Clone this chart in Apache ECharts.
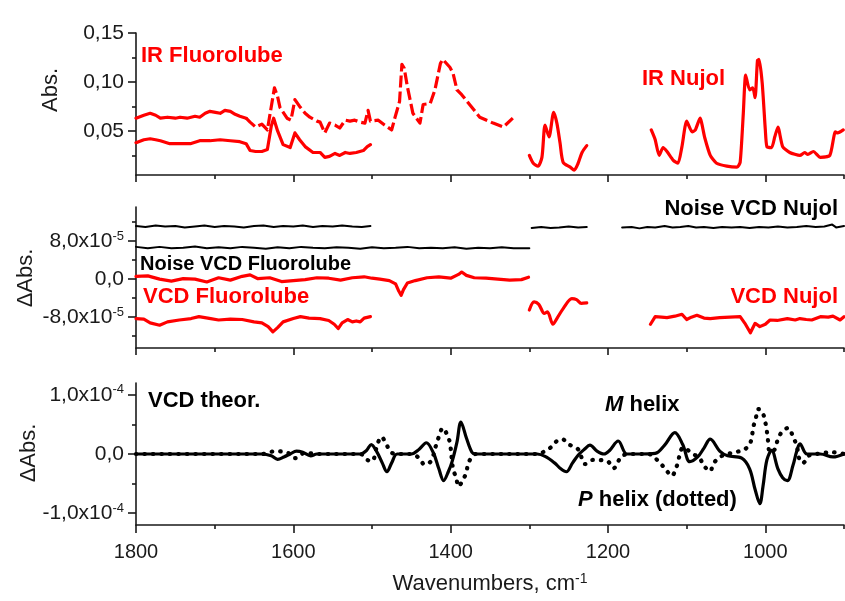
<!DOCTYPE html>
<html><head><meta charset="utf-8">
<script src="https://cdn.jsdelivr.net/npm/echarts@6/dist/echarts.min.js"></script>
<style>html,body{margin:0;padding:0;background:#fff}#c{width:845px;height:601px}</style>
</head><body><div id="c"></div><script>
// ---------- data (wavenumber, value) ----------
// Panel 1: IR absorbance
const irFluoroUpperA = [[1800,0.063],[1790,0.066],[1782,0.068],[1775,0.066],[1769,0.063],[1760,0.064],[1750,0.063],[1744,0.064],[1735,0.063],[1725,0.065],[1719,0.064],[1712,0.068],[1706,0.070],[1699,0.069],[1693,0.068],[1687,0.071],[1680,0.070],[1674,0.067],[1668,0.065],[1660,0.063]];
const irFluoroUpperB = [[1660,0.063],[1655,0.059],[1648,0.054],[1640,0.057],[1633,0.051],[1628,0.075],[1624,0.094],[1620,0.085],[1617,0.074],[1612,0.068],[1608,0.063],[1603,0.061],[1598,0.082],[1592,0.075],[1585,0.068],[1579,0.064],[1570,0.060],[1566,0.059],[1560,0.048],[1554,0.058],[1547,0.056],[1541,0.053],[1534,0.061],[1528,0.060],[1522,0.061],[1515,0.059],[1509,0.058],[1505,0.071],[1502,0.060],[1492,0.061],[1484,0.056],[1475,0.051],[1471,0.063],[1465,0.080],[1462,0.118],[1459,0.114],[1455,0.095],[1448,0.068],[1439,0.058],[1435,0.077],[1426,0.078],[1420,0.092],[1413,0.119],[1410,0.123],[1401,0.115],[1397,0.109],[1392,0.092],[1386,0.087],[1379,0.080],[1363,0.064],[1346,0.058],[1333,0.054],[1321,0.063]];
const irFluoroLower = [[1800,0.038],[1790,0.041],[1782,0.042],[1775,0.041],[1769,0.040],[1757,0.037],[1744,0.037],[1731,0.037],[1719,0.040],[1706,0.040],[1693,0.041],[1680,0.040],[1668,0.039],[1660,0.037],[1655,0.030],[1648,0.029],[1640,0.029],[1633,0.031],[1628,0.055],[1625,0.063],[1620,0.050],[1613,0.036],[1604,0.033],[1598,0.048],[1592,0.041],[1585,0.034],[1575,0.028],[1566,0.028],[1560,0.023],[1554,0.024],[1547,0.027],[1541,0.025],[1534,0.028],[1528,0.027],[1520,0.028],[1511,0.030],[1506,0.034],[1502,0.036]];
const irNujolA = [[1300,0.025],[1295,0.017],[1289,0.014],[1284,0.023],[1280,0.056],[1275,0.044],[1269,0.069],[1265,0.058],[1261,0.038],[1257,0.018],[1248,0.013],[1243,0.010],[1238,0.017],[1233,0.028],[1227,0.035]];
const irNujolB = [[1145,0.051],[1140,0.041],[1135,0.025],[1130,0.033],[1125,0.029],[1117,0.020],[1111,0.017],[1106,0.034],[1100,0.060],[1093,0.049],[1089,0.051],[1083,0.063],[1077,0.043],[1070,0.025],[1062,0.017],[1049,0.014],[1036,0.013],[1032,0.018],[1028,0.068],[1025,0.107],[1020,0.092],[1016,0.094],[1013,0.084],[1010,0.122],[1008,0.123],[1004,0.099],[1000,0.051],[998,0.034],[992,0.033],[988,0.044],[984,0.054],[978,0.034],[969,0.028],[956,0.025],[950,0.028],[946,0.026],[939,0.029],[930,0.023],[918,0.025],[911,0.049],[908,0.048],[901,0.051]];

// Panel 2: VCD and noise (units of 1e-5)
const noiseFluoroUpper = [[1800,11.2],[1788,11.0],[1775,11.3],[1763,11.1],[1750,11.2],[1738,10.9],[1725,11.1],[1713,11.3],[1700,11.0],[1688,11.2],[1675,11.1],[1663,10.9],[1650,11.2],[1638,11.3],[1625,11.0],[1613,11.2],[1600,11.1],[1588,11.3],[1575,11.0],[1563,11.2],[1550,11.1],[1538,11.3],[1525,11.1],[1513,11.0],[1502,11.2]];
const noiseFluoroLower = [[1800,6.8],[1785,6.5],[1770,6.8],[1755,6.5],[1740,6.6],[1725,6.9],[1710,6.5],[1695,6.7],[1680,6.5],[1665,6.8],[1650,6.6],[1635,6.4],[1620,6.7],[1605,6.5],[1590,6.8],[1575,6.6],[1560,6.5],[1545,6.7],[1530,6.6],[1515,6.4],[1500,6.7],[1485,6.5],[1470,6.6],[1455,6.8],[1440,6.5],[1425,6.6],[1410,6.5],[1395,6.7],[1380,6.4],[1365,6.6],[1350,6.5],[1335,6.7],[1320,6.5],[1300,6.5]];
const noiseNujolA = [[1297,10.8],[1285,11.0],[1273,10.8],[1262,10.9],[1250,11.1],[1238,10.9],[1227,11.0]];
const noiseNujolB = [[1182,10.9],[1170,11.0],[1160,10.7],[1150,11.0],[1140,10.9],[1128,11.2],[1118,10.9],[1108,11.0],[1098,11.2],[1088,10.9],[1078,11.0],[1066,10.8],[1055,11.0],[1043,10.9],[1032,11.0],[1020,10.8],[1008,11.0],[996,10.9],[984,11.1],[972,10.9],[960,11.0],[948,11.2],[936,11.0],[925,11.1],[915,11.5],[910,10.9],[900,11.2]];
const vcdFluoroUpper = [[1800,0.6],[1785,0.7],[1770,0.0],[1755,-0.4],[1740,0.1],[1725,0.0],[1710,-0.6],[1695,0.3],[1680,-0.2],[1665,0.6],[1655,0.9],[1645,0.1],[1630,0.3],[1615,-0.5],[1600,-0.3],[1585,-0.1],[1570,0.3],[1555,0.2],[1540,-0.2],[1525,0.3],[1510,0.5],[1500,0.2],[1490,0.0],[1478,-0.3],[1470,-1.0],[1466,-2.5],[1463,-3.4],[1460,-2.2],[1455,-0.8],[1445,-0.3],[1430,0.3],[1415,0.5],[1400,0.2],[1390,1.0],[1386,1.5],[1380,0.8],[1370,0.3],[1355,0.2],[1340,0.0],[1325,-0.2],[1310,-0.1],[1301,0.4]];
const vcdFluoroLower = [[1800,-8.3],[1790,-8.4],[1782,-9.2],[1770,-9.7],[1760,-9.0],[1745,-8.6],[1730,-8.3],[1720,-7.9],[1705,-8.3],[1695,-8.6],[1680,-8.4],[1665,-8.5],[1650,-9.0],[1640,-9.2],[1632,-10.0],[1626,-11.1],[1620,-10.2],[1613,-9.0],[1600,-8.3],[1591,-7.9],[1580,-8.2],[1566,-8.3],[1555,-8.7],[1548,-9.5],[1543,-10.4],[1538,-9.2],[1531,-8.5],[1525,-9.0],[1520,-8.8],[1515,-9.0],[1510,-8.2],[1502,-7.9]];
const vcdNujolA = [[1300,-6.5],[1294,-4.8],[1288,-5.3],[1281,-7.2],[1277,-6.9],[1270,-9.5],[1265,-8.3],[1257,-6.2],[1246,-4.1],[1240,-4.3],[1234,-5.1],[1227,-5.0]];
const vcdNujolB = [[1146,-9.5],[1140,-7.9],[1132,-8.0],[1125,-8.1],[1115,-7.8],[1106,-7.4],[1100,-8.5],[1094,-8.0],[1087,-7.6],[1078,-8.2],[1070,-8.3],[1058,-8.1],[1045,-8.0],[1032,-7.9],[1026,-9.3],[1019,-11.3],[1013,-9.3],[1007,-10.0],[1000,-9.5],[994,-8.6],[985,-8.7],[972,-8.3],[962,-8.6],[956,-8.3],[948,-8.5],[941,-8.6],[930,-7.9],[920,-8.0],[914,-7.8],[905,-8.6],[900,-7.9]];

// Panel 3: theoretical VCD (units of 1e-5)
const mHelix = [[1800,0],[1640,0],[1628,-0.3],[1620,-0.9],[1612,-0.5],[1604,0],[1596,0.5],[1588,0.3],[1578,-0.3],[1570,0],[1515,0],[1507,0.6],[1501,1.6],[1494,0.4],[1487,-1.5],[1481,-3.0],[1475,-1.5],[1468,0],[1450,0],[1440,0.8],[1431,1.9],[1422,0.2],[1415,-2.5],[1409,-4.5],[1403,-3.0],[1398,-1.2],[1392,2.0],[1387,5.4],[1380,2.7],[1373,0.3],[1368,0],[1290,0],[1280,-0.4],[1268,-1.5],[1260,-2.5],[1253,-3.0],[1245,-1.5],[1238,-0.2],[1230,0.8],[1223,1.5],[1214,0.5],[1205,0],[1198,0.6],[1187,2.2],[1176,0],[1160,0],[1140,0.1],[1128,1.5],[1115,3.6],[1105,1.6],[1096,-1.3],[1086,-0.5],[1078,1.0],[1070,2.5],[1058,0.5],[1048,-0.3],[1030,-0.7],[1020,-2.5],[1013,-6.0],[1007,-8.4],[1003,-5.5],[998,-1.0],[992,0.6],[984,-2.5],[978,-4.0],[972,-4.5],[965,-2.0],[960,0.5],[956,1.7],[947,0],[930,0],[914,-0.5],[900,0]];
const pHelix = [[1800,0],[1640,0],[1622,0.5],[1610,0.3],[1604,0],[1598,-0.7],[1585,0.2],[1570,0],[1515,0],[1506,-1.0],[1500,-1.2],[1493,1.7],[1488,2.9],[1482,1.7],[1476,0.3],[1468,0],[1450,0],[1440,-0.7],[1433,-1.8],[1425,-1.2],[1419,1.3],[1415,2.9],[1410,4.4],[1405,3.4],[1401,1.9],[1397,-2.5],[1393,-4.0],[1390,-5.5],[1385,-4.5],[1380,-3.1],[1378,-1.7],[1373,-0.5],[1368,0],[1290,0],[1280,0.5],[1271,1.3],[1265,2.2],[1258,2.5],[1251,1.7],[1238,0.8],[1229,-1.7],[1219,-1.0],[1201,-1.2],[1193,-2.4],[1182,-0.3],[1169,0],[1149,0],[1136,-1.2],[1125,-2.9],[1119,-3.7],[1113,-2.2],[1104,1.1],[1092,0],[1084,-0.6],[1078,-2.0],[1070,-2.9],[1066,-1.6],[1055,-0.3],[1035,0.4],[1026,0.8],[1019,1.9],[1015,4.7],[1012,6.1],[1009,7.6],[1004,7.2],[999,4.7],[997,2.7],[994,0.3],[988,0.8],[984,2.5],[978,3.9],[971,4.4],[965,3.0],[960,1.3],[956,-1.2],[952,-1.5],[945,-0.3],[935,0],[914,0.3],[900,0]];

// ---------- axis ticks / labels ----------
const xMajor = [1000, 1200, 1400, 1600, 1800];
const xMinor = [900, 1100, 1300, 1500, 1700];
const y1Major = [0.05, 0.10, 0.15];
const y1Minor = [0.025, 0.075, 0.125];
const y1Labels = ['0,05', '0,10', '0,15'];
const y2Major = [-8, 0, 8];
const y2Minor = [-12, -4, 4, 12];
const y2Labels = ['{b|-8,0x10}{s|-5}', '{b|0,0}', '{b|8,0x10}{s|-5}'];
const y3Major = [-10, 0, 10];
const y3Minor = [-5, 5];
const y3Labels = ['{b|-1,0x10}{s|-4}', '{b|0,0}', '{b|1,0x10}{s|-4}'];

const FONT = '"Liberation Sans", Arial, Helvetica, sans-serif';
const AX = '#1a1a1a';
const RED = '#ff0000';

const grids = [
  {left: 136, top: 33, width: 708, height: 142},
  {left: 136, top: 207, width: 708, height: 141},
  {left: 136, top: 383, width: 708, height: 142}
];

function xAxisDef(gi, ticks, len, labels, line) {
  return {
    type: 'value', gridIndex: gi, min: 900, max: 1800, inverse: true, position: 'bottom',
    splitLine: {show: false},
    axisLine: {show: line, onZero: false, lineStyle: {color: AX, width: 1.6}},
    axisTick: {show: true, customValues: ticks, length: len, lineStyle: {color: AX, width: 1.6}},
    axisLabel: labels ? {show: true, customValues: xMajor, formatter: v => String(v), fontSize: 20, fontFamily: FONT, color: AX, margin: 17} : {show: false}
  };
}
const rich = {
  b: {fontSize: 21, fontFamily: FONT, color: AX, lineHeight: 23},
  s: {fontSize: 13, fontFamily: FONT, color: AX, verticalAlign: 'top', lineHeight: 13}
};
function yAxisDef(gi, min, max, ticks, len, labelVals, labelTxt, line) {
  return {
    type: 'value', gridIndex: gi, min: min, max: max, position: 'left',
    splitLine: {show: false},
    axisLine: {show: line, onZero: false, lineStyle: {color: AX, width: 1.6}},
    axisTick: {show: true, customValues: ticks, length: len, lineStyle: {color: AX, width: 1.6}},
    axisLabel: labelVals ? {
      show: true, customValues: labelVals, margin: 12, fontSize: 21, fontFamily: FONT, color: AX, rich: rich,
      formatter: v => {
        let best = 0, d = Infinity;
        labelVals.forEach((lv, i) => { if (Math.abs(lv - v) < d) { d = Math.abs(lv - v); best = i; } });
        return labelTxt[best];
      }
    } : {show: false}
  };
}

const xAxes = [
  xAxisDef(0, xMajor, 7, false, true), xAxisDef(0, xMinor, 4, false, false),
  xAxisDef(1, xMajor, 7, false, true), xAxisDef(1, xMinor, 4, false, false),
  xAxisDef(2, xMajor, 8, true, true), xAxisDef(2, xMinor, 4, false, false)
];
const yAxes = [
  yAxisDef(0, 0.005, 0.15, y1Major, 8, y1Major, y1Labels, true), yAxisDef(0, 0.005, 0.15, y1Minor, 4, null, null, false),
  yAxisDef(1, -14.5, 15.2, y2Major, 8, y2Major, y2Labels, true), yAxisDef(1, -14.5, 15.2, y2Minor, 4, null, null, false),
  yAxisDef(2, -12, 12, y3Major, 8, y3Major, y3Labels, true), yAxisDef(2, -12, 12, y3Minor, 4, null, null, false)
];

function line(data, xi, yi, color, width, extra) {
  return Object.assign({
    type: 'line', data: data, xAxisIndex: xi, yAxisIndex: yi, showSymbol: false, symbol: 'none',
    silent: true, animation: false, z: 3,
    lineStyle: {color: color, width: width, join: 'round', cap: 'round'}
  }, extra || {});
}

const series = [
  line(irFluoroUpperA, 0, 0, RED, 3.2),
  line(irFluoroUpperB, 0, 0, RED, 3.2, {lineStyle: {color: RED, width: 3.2, type: [12, 4], join: 'round'}}),
  line(irFluoroLower, 0, 0, RED, 3.2),
  line(irNujolA, 0, 0, RED, 3.2, {smooth: 0.25}),
  line(irNujolB, 0, 0, RED, 3.2, {smooth: 0.2}),
  line(noiseFluoroUpper, 2, 2, '#000', 2),
  line(noiseFluoroLower, 2, 2, '#000', 2),
  line(noiseNujolA, 2, 2, '#000', 2),
  line(noiseNujolB, 2, 2, '#000', 2),
  line(vcdFluoroUpper, 2, 2, RED, 3.2),
  line(vcdFluoroLower, 2, 2, RED, 3.2),
  line(vcdNujolA, 2, 2, RED, 3.2, {smooth: 0.3}),
  line(vcdNujolB, 2, 2, RED, 3.2),
  line(pHelix, 4, 4, '#000', 4, {smooth: 0.35, lineStyle: {color: '#000', width: 4.2, type: [0.5, 8], cap: 'round'}}),
  line(mHelix, 4, 4, '#000', 3.2, {smooth: 0.35})
];

function txt(x, y, text, color, size, align, extra) {
  return Object.assign({
    type: 'text', x: x, y: y, silent: true, z: 10,
    style: {text: text, fill: color, fontSize: size, fontWeight: 'bold', fontFamily: FONT, align: align || 'left', verticalAlign: 'middle'}
  }, extra || {});
}
const graphic = [
  txt(141, 56, 'IR Fluorolube', RED, 22),
  txt(642, 79, 'IR Nujol', RED, 22),
  txt(838, 209, 'Noise VCD Nujol', '#000', 22, 'right'),
  txt(140, 264, 'Noise VCD Fluorolube', '#000', 20),
  txt(143, 297, 'VCD Fluorolube', RED, 22),
  txt(838, 297, 'VCD Nujol', RED, 22, 'right'),
  txt(148, 401, 'VCD theor.', '#000', 22),
  {type: 'text', x: 605, y: 405, silent: true, z: 10, style: {text: '{i|M} helix', fill: '#000', fontSize: 22, fontWeight: 'bold', fontFamily: FONT, verticalAlign: 'middle', rich: {i: {fontStyle: 'italic', fontWeight: 'bold', fontSize: 22, fontFamily: FONT, fill: '#000'}}}},
  {type: 'text', x: 578, y: 500, silent: true, z: 10, style: {text: '{i|P} helix (dotted)', fill: '#000', fontSize: 22, fontWeight: 'bold', fontFamily: FONT, verticalAlign: 'middle', rich: {i: {fontStyle: 'italic', fontWeight: 'bold', fontSize: 22, fontFamily: FONT, fill: '#000'}}}},
  {type: 'text', x: 51, y: 90, rotation: Math.PI / 2, silent: true, style: {text: 'Abs.', fill: AX, fontSize: 22, fontFamily: FONT, align: 'center', verticalAlign: 'middle'}},
  {type: 'text', x: 26, y: 278, rotation: Math.PI / 2, silent: true, style: {text: '\u0394Abs.', fill: AX, fontSize: 22, fontFamily: FONT, align: 'center', verticalAlign: 'middle'}},
  {type: 'text', x: 29, y: 453, rotation: Math.PI / 2, silent: true, style: {text: '\u0394Abs.', fill: AX, fontSize: 22, fontFamily: FONT, align: 'center', verticalAlign: 'middle'}},
  {type: 'text', x: 490, y: 584, silent: true, style: {text: '{b|Wavenumbers, cm}{s|-1}', fill: AX, fontSize: 22, fontFamily: FONT, align: 'center', verticalAlign: 'middle',
    rich: {b: {fontSize: 22, fontFamily: FONT, fill: AX, lineHeight: 24}, s: {fontSize: 14, fontFamily: FONT, fill: AX, verticalAlign: 'top', lineHeight: 14}}}}
];

const chart = echarts.init(document.getElementById('c'), null, {renderer: 'canvas'});
chart.setOption({
  backgroundColor: '#ffffff',
  animation: false,
  grid: grids,
  xAxis: xAxes,
  yAxis: yAxes,
  series: series,
  graphic: graphic
});
</script></body></html>
